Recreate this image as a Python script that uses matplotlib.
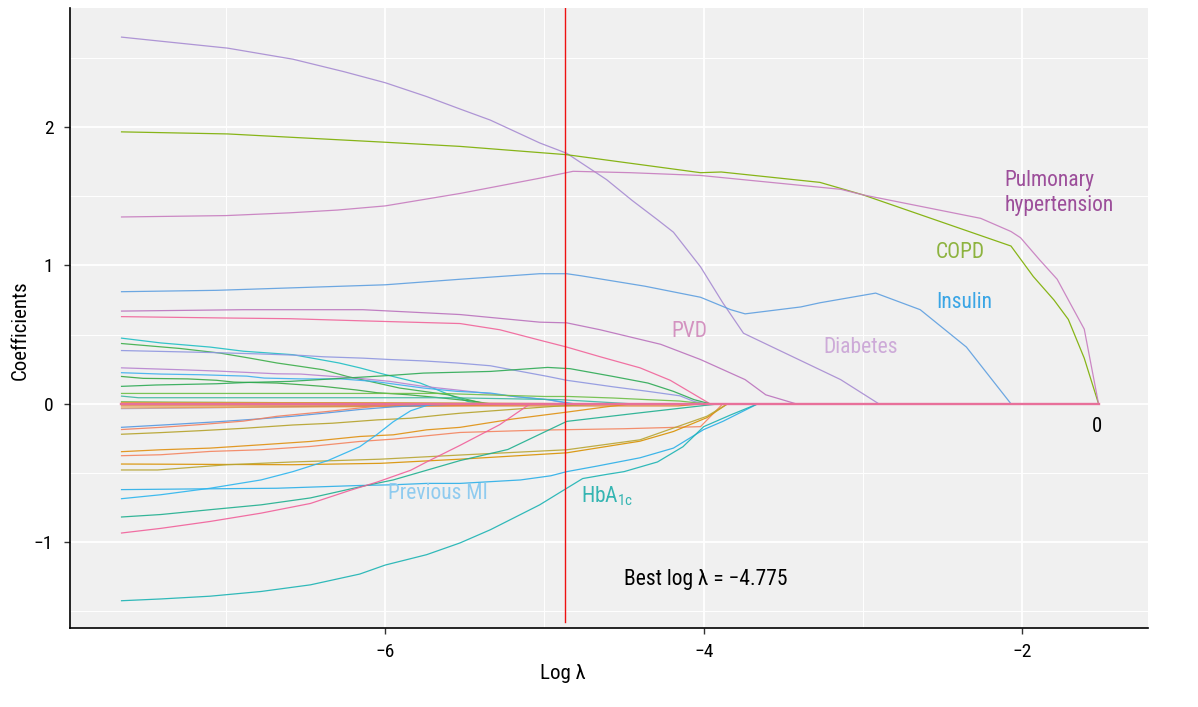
import matplotlib
matplotlib.use("Agg")
import matplotlib.pyplot as plt
from matplotlib import font_manager
from matplotlib.ticker import FixedLocator

# pick a narrow font if there is one
fam = "DejaVu Sans"
for f in ["Liberation Sans Narrow", "Roboto Condensed", "Liberation Sans"]:
    try:
        font_manager.findfont(f, fallback_to_default=False)
        fam = f
        break
    except Exception:
        pass
plt.rcParams["font.family"] = [fam, "DejaVu Sans"]
plt.rcParams["mathtext.fontset"] = "custom"
plt.rcParams["mathtext.rm"] = fam
plt.rcParams["mathtext.it"] = fam

# coefficient paths (log lambda, coefficient)
end_x = -1.52

diabetes_x = [-7.66, -7.41, -6.99, -6.58, -6.26, -6.0, -5.74, -5.53, -5.34, -5.03, -4.86, -4.61, -4.45, -4.29, -4.19, -4.02, -3.88, -3.75, -3.14, -2.90]
diabetes_y = [2.65, 2.62, 2.57, 2.49, 2.40, 2.32, 2.22, 2.13, 2.05, 1.885, 1.81, 1.62, 1.47, 1.33, 1.24, 0.99, 0.73, 0.51, 0.175, 0.0]

copd_x = [-7.66, -6.99, -6.0, -5.53, -4.86, -4.02, -3.89, -3.27, -3.0, -2.07, -1.93, -1.80, -1.71, -1.61, -1.52]
copd_y = [1.965, 1.95, 1.89, 1.86, 1.80, 1.67, 1.675, 1.60, 1.51, 1.14, 0.92, 0.75, 0.61, 0.33, 0.0]

pulm_x = [-7.66, -7.0, -6.6, -6.3, -6.0, -5.53, -5.03, -4.82, -4.46, -4.02, -3.14, -3.0, -2.26, -2.07, -2.01, -1.89, -1.78, -1.70, -1.61, -1.52]
pulm_y = [1.35, 1.36, 1.38, 1.40, 1.43, 1.52, 1.63, 1.68, 1.67, 1.65, 1.55, 1.51, 1.34, 1.245, 1.20, 1.04, 0.90, 0.73, 0.54, 0.0]

insulin_x = [-7.66, -7.06, -6.0, -5.53, -5.03, -4.86, -4.77, -4.37, -4.02, -3.83, -3.74, -3.39, -3.27, -2.92, -2.64, -2.35, -2.07]
insulin_y = [0.81, 0.82, 0.86, 0.90, 0.94, 0.94, 0.925, 0.85, 0.77, 0.68, 0.65, 0.70, 0.73, 0.80, 0.68, 0.41, 0.0]

pvd_x = [-7.66, -6.89, -6.14, -5.53, -5.03, -4.86, -4.65, -4.27, -4.02, -3.74, -3.61, -3.42]
pvd_y = [0.67, 0.68, 0.68, 0.645, 0.59, 0.585, 0.535, 0.43, 0.32, 0.175, 0.065, 0.0]

pink_x = [-7.66, -7.0, -6.6, -6.16, -5.53, -5.28, -5.03, -4.86, -4.65, -4.40, -4.21, -3.96]
pink_y = [0.63, 0.62, 0.615, 0.60, 0.58, 0.535, 0.46, 0.41, 0.34, 0.26, 0.17, 0.0]

teal_a_x = [-7.66, -7.41, -7.10, -6.89, -6.58, -6.29, -6.16, -6.03, -5.91, -5.78, -5.67, -5.57, -5.48, -5.40]
teal_a_y = [0.475, 0.44, 0.41, 0.38, 0.355, 0.295, 0.26, 0.22, 0.186, 0.15, 0.10, 0.053, 0.017, 0.0]

green_a_x = [-7.66, -7.29, -7.04, -6.85, -6.68, -6.53, -6.39, -6.24, -6.05, -5.91, -5.76, -5.61, -5.48, -5.37]
green_a_y = [0.436, 0.40, 0.367, 0.33, 0.295, 0.27, 0.246, 0.198, 0.15, 0.114, 0.09, 0.066, 0.03, 0.0]

lavblue_x = [-7.66, -7.07, -6.78, -6.53, -6.39, -6.14, -5.97, -5.76, -5.55, -5.34, -5.20, -4.98, -4.86, -4.57, -4.35, -4.15, -4.06, -3.99]
lavblue_y = [0.385, 0.37, 0.36, 0.35, 0.34, 0.33, 0.32, 0.31, 0.295, 0.275, 0.245, 0.198, 0.17, 0.123, 0.09, 0.058, 0.017, 0.0]

purple_s_x = [-7.66, -7.28, -7.06, -6.87, -6.68, -6.53, -6.39, -6.18, -5.97, -5.76, -5.55, -5.19, -4.98, -4.84]
purple_s_y = [0.26, 0.246, 0.237, 0.227, 0.217, 0.215, 0.203, 0.186, 0.162, 0.126, 0.10, 0.053, 0.03, 0.0]

ltblue_s_x = [-7.66, -7.41, -7.16, -6.87, -6.76, -6.53, -6.28, -6.07, -5.76, -5.55, -5.34, -5.19, -4.98, -4.81]
ltblue_s_y = [0.225, 0.215, 0.21, 0.20, 0.186, 0.18, 0.18, 0.162, 0.114, 0.09, 0.078, 0.053, 0.03, 0.0]

green_b_x = [-7.66, -7.52, -7.24, -7.06, -6.95, -6.68, -6.53, -6.39, -6.18, -6.05, -5.86, -5.65, -5.45, -5.34]
green_b_y = [0.198, 0.184, 0.18, 0.17, 0.157, 0.15, 0.138, 0.126, 0.10, 0.08, 0.066, 0.043, 0.019, 0.0]

green_up_x = [-7.66, -7.44, -7.06, -6.85, -6.60, -5.97, -5.76, -5.34, -4.98, -4.84, -4.57, -4.35, -4.19, -4.06, -3.96]
green_up_y = [0.126, 0.136, 0.145, 0.155, 0.162, 0.205, 0.222, 0.234, 0.263, 0.254, 0.198, 0.15, 0.09, 0.03, 0.0]

green_flat_x = [-7.66, -5.65, -5.40, -5.0, -4.85, -4.57, -4.35, -4.15, -3.99]
green_flat_y = [0.075, 0.075, 0.066, 0.053, 0.053, 0.042, 0.03, 0.02, 0.0]

teal_s_x = [-7.66, -7.55, -5.60, -4.90, -4.60, -4.45]
teal_s_y = [0.056, 0.044, 0.044, 0.03, 0.01, 0.0]

tiny_green_x = [-7.66, -7.35, -5.00]
tiny_green_y = [0.015, 0.012, 0.0]
tiny_orange_x = [-7.66, -6.0, -4.60]
tiny_orange_y = [0.01, 0.008, 0.0]
tiny_lav_x = [-7.66, -7.06, -6.0, -5.00]
tiny_lav_y = [-0.035, -0.028, -0.012, 0.0]
tiny_orange2_x = [-7.66, -6.0, -4.70]
tiny_orange2_y = [-0.03, -0.02, 0.0]
tiny_dkorange_x = [-7.66, -4.16, -4.00]
tiny_dkorange_y = [-0.015, -0.015, 0.0]

blue_n_x = [-7.66, -7.35, -7.06, -6.78, -6.58, -6.36, -6.16, -5.95, -5.74, -5.50]
blue_n_y = [-0.17, -0.15, -0.13, -0.108, -0.09, -0.065, -0.041, -0.022, -0.01, 0.0]

salmon_n_x = [-7.66, -7.41, -7.16, -6.89, -6.68, -6.36, -6.16, -5.90]
salmon_n_y = [-0.186, -0.17, -0.15, -0.125, -0.09, -0.055, -0.03, 0.0]

olive_n_x = [-7.66, -7.41, -7.16, -6.89, -6.58, -6.33, -6.05, -5.84, -5.64, -5.53, -5.20, -4.90, -4.60]
olive_n_y = [-0.22, -0.208, -0.194, -0.177, -0.153, -0.14, -0.116, -0.104, -0.08, -0.068, -0.04, -0.015, 0.0]

orange_a_x = [-7.66, -7.41, -7.10, -6.78, -6.47, -6.16, -5.95, -5.74, -5.53, -5.20, -4.86, -4.60, -4.45]
orange_a_y = [-0.346, -0.332, -0.32, -0.296, -0.272, -0.236, -0.224, -0.188, -0.17, -0.11, -0.06, -0.02, 0.0]

salmon_b_x = [-7.66, -7.41, -7.10, -6.78, -6.47, -6.16, -5.95, -5.74, -5.53, -5.03, -4.50, -4.02, -3.88]
salmon_b_y = [-0.375, -0.368, -0.344, -0.332, -0.308, -0.272, -0.255, -0.231, -0.207, -0.19, -0.18, -0.165, 0.0]

orange_b_x = [-7.66, -6.58, -6.03, -5.53, -4.86, -4.40, -4.19, -3.98, -3.85]
orange_b_y = [-0.435, -0.44, -0.43, -0.40, -0.354, -0.27, -0.20, -0.10, 0.0]

olive_b_x = [-7.66, -7.43, -6.99, -6.58, -6.03, -5.53, -4.86, -4.40, -3.98, -3.85]
olive_b_y = [-0.478, -0.478, -0.44, -0.42, -0.40, -0.37, -0.332, -0.26, -0.09, 0.0]

prev_mi_x = [-7.66, -7.20, -6.68, -6.16, -5.95, -5.74, -5.53, -5.15, -4.96, -4.86, -4.67, -4.40, -4.19, -4.0, -3.88, -3.66]
prev_mi_y = [-0.62, -0.615, -0.61, -0.59, -0.585, -0.575, -0.575, -0.55, -0.52, -0.49, -0.45, -0.39, -0.32, -0.186, -0.127, 0.0]

ltblue_n_x = [-7.66, -7.41, -7.10, -6.78, -6.58, -6.36, -6.16, -6.05, -5.95, -5.84, -5.74, -5.70]
ltblue_n_y = [-0.686, -0.657, -0.61, -0.55, -0.49, -0.41, -0.31, -0.22, -0.13, -0.05, -0.012, 0.0]

tealgr_n_x = [-7.66, -7.41, -7.10, -6.78, -6.47, -6.16, -5.95, -5.74, -5.53, -5.23, -4.86, -4.40, -3.98, -3.90]
tealgr_n_y = [-0.818, -0.80, -0.765, -0.73, -0.68, -0.60, -0.55, -0.48, -0.41, -0.33, -0.127, -0.065, -0.01, 0.0]

pink_n_x = [-7.66, -7.41, -7.10, -6.78, -6.47, -6.22, -6.05, -5.84, -5.74, -5.53, -5.28, -5.09]
pink_n_y = [-0.934, -0.90, -0.85, -0.79, -0.72, -0.625, -0.565, -0.48, -0.42, -0.30, -0.15, 0.0]

hba1c_x = [-7.66, -7.41, -7.10, -6.78, -6.47, -6.16, -6.0, -5.74, -5.53, -5.34, -5.03, -4.86, -4.76, -4.61, -4.50, -4.29, -4.13, -4.0, -3.83, -3.66]
hba1c_y = [-1.423, -1.41, -1.39, -1.356, -1.308, -1.23, -1.165, -1.09, -1.005, -0.91, -0.73, -0.61, -0.54, -0.51, -0.49, -0.42, -0.31, -0.165, -0.08, 0.0]

zero_x = [-7.66, end_x]
zero_y = [0.0, 0.0]

best_lambda_line = -4.87
best_lambda_text = "Best log λ = −4.775"

paths = [
    (diabetes_x, diabetes_y, "#A78BD2"),
    (copd_x, copd_y, "#7CAE00"),
    (pulm_x, pulm_y, "#C77CBF"),
    (insulin_x, insulin_y, "#5E9FE0"),
    (pvd_x, pvd_y, "#BB72BD"),
    (pink_x, pink_y, "#F0649A"),
    (teal_a_x, teal_a_y, "#1FBFC4"),
    (green_a_x, green_a_y, "#3CAE4A"),
    (lavblue_x, lavblue_y, "#8F96E0"),
    (purple_s_x, purple_s_y, "#B783D0"),
    (ltblue_s_x, ltblue_s_y, "#3FB0EE"),
    (green_b_x, green_b_y, "#39A845"),
    (green_up_x, green_up_y, "#2EAA55"),
    (green_flat_x, green_flat_y, "#6DBE45"),
    (teal_s_x, teal_s_y, "#3DB8A0"),
    (tiny_green_x, tiny_green_y, "#5CB85C"),
    (tiny_orange_x, tiny_orange_y, "#E0A030"),
    (tiny_lav_x, tiny_lav_y, "#A9A0E0"),
    (tiny_orange2_x, tiny_orange2_y, "#E8A050"),
    (tiny_dkorange_x, tiny_dkorange_y, "#E07A20"),
    (blue_n_x, blue_n_y, "#5598E0"),
    (salmon_n_x, salmon_n_y, "#F08060"),
    (olive_n_x, olive_n_y, "#B5A22A"),
    (orange_a_x, orange_a_y, "#E09010"),
    (salmon_b_x, salmon_b_y, "#F4845F"),
    (orange_b_x, orange_b_y, "#D99100"),
    (olive_b_x, olive_b_y, "#B8A532"),
    (prev_mi_x, prev_mi_y, "#2AAFE8"),
    (ltblue_n_x, ltblue_n_y, "#2CB5EE"),
    (tealgr_n_x, tealgr_n_y, "#1FAF8F"),
    (pink_n_x, pink_n_y, "#F0609A"),
    (hba1c_x, hba1c_y, "#1BB3B3"),
]

fig = plt.figure(figsize=(11.98, 7.07), dpi=100)
ax = fig.add_axes([0.0584, 0.1117, 0.8998, 0.877])
ax.set_facecolor("#F0F0F0")

for xs, ys, c in paths:
    # coefficients stay at zero once they drop out
    if xs[-1] < end_x:
        xs = xs + [end_x]
        ys = ys + [0.0]
    ax.plot(xs, ys, color=c, lw=0.9, alpha=0.9, solid_capstyle="butt")
ax.plot(zero_x, zero_y, color="#E8709A", lw=1.7)

ax.axvline(best_lambda_line, ymin=0.01, ymax=1, color="#EE1111", lw=1.0)

ax.set_xlim(-7.98, -1.21)
ax.set_ylim(-1.62, 2.86)
ax.xaxis.set_major_locator(FixedLocator([-6, -4, -2]))
ax.xaxis.set_minor_locator(FixedLocator([-7, -5, -3]))
ax.yaxis.set_major_locator(FixedLocator([-1, 0, 1, 2]))
ax.yaxis.set_minor_locator(FixedLocator([-1.5, -0.5, 0.5, 1.5, 2.5]))
ax.set_xticklabels(["−6", "−4", "−2"])
ax.set_yticklabels(["−1", "0", "1", "2"])
ax.grid(which="major", color="white", lw=1.3)
ax.grid(which="minor", color="white", lw=0.7)
ax.set_axisbelow(True)
ax.tick_params(which="major", length=4, width=1, color="#333333", labelsize=14, labelcolor="black")
ax.tick_params(axis="y", which="major", pad=8)
ax.tick_params(axis="x", which="major", pad=7)
ax.tick_params(which="minor", length=0)
for s in ["top", "right"]:
    ax.spines[s].set_visible(False)
for s in ["left", "bottom"]:
    ax.spines[s].set_linewidth(1.2)
    ax.spines[s].set_color("black")

ax.set_xlabel("Log λ", fontsize=15)
ax.set_ylabel("Coefficients", fontsize=15)
ax.xaxis.set_label_coords(0.457, -0.058)
ax.yaxis.set_label_coords(-0.037, 0.48)

lab = dict(fontsize=15.5, va="center", ha="left")
ax.text(-2.11, 1.61, "Pulmonary", color="#9C4E9A", **lab)
ax.text(-2.11, 1.43, "hypertension", color="#9C4E9A", **lab)
ax.text(-2.54, 1.09, "COPD", color="#8DB33F", **lab)
ax.text(-2.54, 0.73, "Insulin", color="#3AA5E5", **lab)
ax.text(-4.20, 0.52, "PVD", color="#D392C0", **lab)
ax.text(-3.25, 0.41, "Diabetes", color="#CDAAD8", **lab)
ax.text(-5.98, -0.65, "Previous MI", color="#8FCBEF", **lab)
ax.text(-4.77, -0.67, r"HbA$_{\mathrm{1c}}$", color="#35B5B2", **lab)
ax.text(-4.50, -1.27, best_lambda_text, color="black", **lab)
ax.text(-1.53, -0.165, "0", color="black", fontsize=15, va="center", ha="center")

fig.savefig("out.png", dpi=100)
